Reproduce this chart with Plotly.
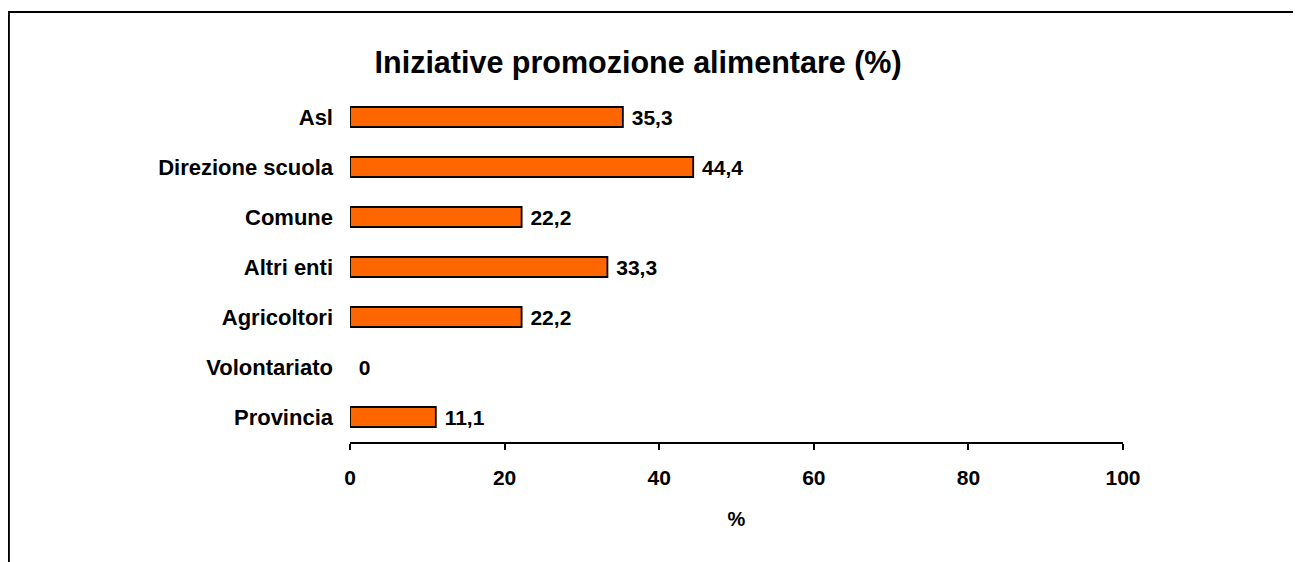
import plotly.graph_objects as go

categories = ["Asl", "Direzione scuola", "Comune", "Altri enti", "Agricoltori", "Volontariato", "Provincia"]
values = [35.3, 44.4, 22.2, 33.3, 22.2, 0, 11.1]
x_ticks = [0, 20, 40, 60, 80, 100]
title_text = "Iniziative promozione alimentare (%)"
x_title = "%"

def fmt(v):
    if v == 0:
        return "0"
    return f"{v:.1f}".replace(".", ",")

labels = ["\u00a0" + fmt(v) for v in values]
outline_widths = [1.8 if v > 0 else 0 for v in values]

FONT = "Liberation Sans, Arial, sans-serif"
OFF = 8  # page body margin
W, H = 1301 - OFF, 562 - OFF
L, R, T, B = 350 - OFF, 1122.7 - OFF, 92 - OFF, 442 - OFF

fig = go.Figure(go.Bar(
    y=categories, x=values, orientation="h",
    marker=dict(color="#FF6600", line=dict(color="black", width=outline_widths)),
    width=0.4,
    text=labels, textposition="outside", cliponaxis=False, constraintext="none",
    textfont=dict(family=FONT, size=21, color="black", weight="bold"),
))

def px_x(p):
    return (p - OFF - L) / (R - L)

def px_y(p):
    return (B - (p - OFF)) / (B - T)

fig.update_layout(
    width=W, height=H,
    margin=dict(l=L, r=W - R, t=T, b=H - B, pad=0),
    paper_bgcolor="white", plot_bgcolor="white",
    showlegend=False,
    font=dict(family=FONT, size=21, color="black", weight="bold"),
    title=dict(text=title_text, x=px_x(638), xref="paper", xanchor="center",
               y=1 - (62 - OFF) / H, yanchor="middle",
               font=dict(size=30.5, family=FONT, color="black", weight="bold")),
    xaxis=dict(range=[0, 100], tickvals=x_ticks,
               tickfont=dict(size=21, weight="bold"),
               showgrid=False, zeroline=False, showline=True, linecolor="black", linewidth=2,
               ticks="outside", ticklen=6, tickwidth=2, tickcolor="black",
               ticklabelstandoff=10,
               title=dict(text=x_title, standoff=24, font=dict(size=20, weight="bold"))),
    yaxis=dict(categoryorder="array", categoryarray=categories, autorange="reversed",
               tickfont=dict(size=22, weight="bold"),
               showgrid=False, zeroline=False, showline=False, ticks="",
               ticklabelstandoff=16),
    shapes=[dict(type="rect", xref="paper", yref="paper",
                 x0=px_x(9), x1=px_x(1330), y0=px_y(600), y1=px_y(12),
                 line=dict(color="black", width=2), fillcolor="rgba(0,0,0,0)", layer="below")],
)

fig.write_html("out.html")
